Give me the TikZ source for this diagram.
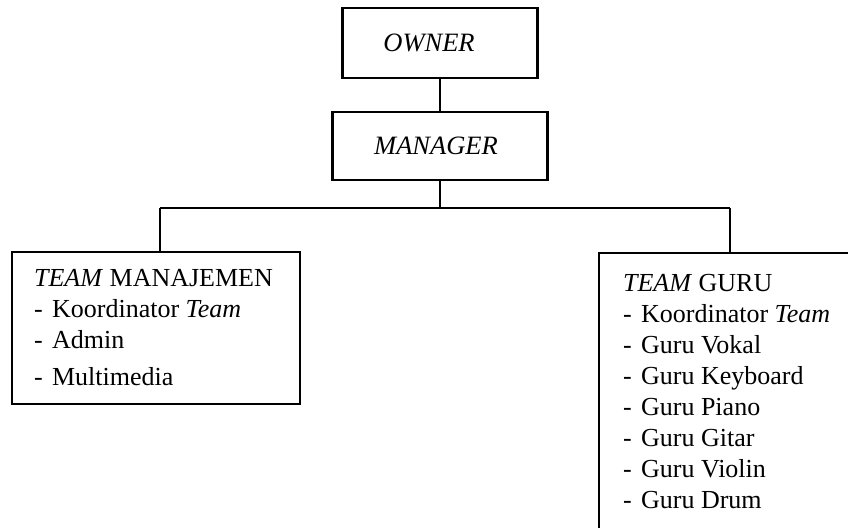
\documentclass[tikz,border=0pt]{standalone}
\usepackage{fontspec}
\setmainfont{Liberation Serif}
\newcommand\member[1]{% dash, then the entry
  \makebox[18pt][l]{-}#1%
}

\begin{document}
\begin{tikzpicture}[x=1pt,y=-1pt,line width=2.2pt]
  \tikzset{
    post/.style={draw,rectangle,inner sep=0pt,font=\fontsize{26.5}{31}\selectfont\itshape},
    unit/.style={draw,rectangle,inner sep=0pt,anchor=north west},
    staff/.style={anchor=base west,inner sep=0pt,align=left,font=\fontsize{26}{31}\selectfont},
  }
  \clip (0,0) rectangle (848,527);
  % titles sit a little left of the box centre
  \node [post,minimum width=195pt,minimum height=70pt] (owner)   at (440,43)  {OWNER\hspace*{22pt}};
  \node [post,minimum width=215pt,minimum height=68pt] (manager) at (440,146) {MANAGER\hspace*{8pt}};
  \node [unit,minimum width=288pt,minimum height=152pt] (mgmt) at (11,251) {};
  \node [unit,minimum width=320pt,minimum height=320pt] (guru) at (598,252) {};
  % base of a multi-line node is its last line
  \node [staff] (mgmtlist) at (33,385) {%
    \textit{TEAM} MANAJEMEN\\
    \member{Koordinator \textit{Team}}\\
    \member{Admin}\\[6pt]
    \member{Multimedia}};
  \node [staff,font=\fontsize{26}{30.9}\selectfont] (gurulist) at (622,508) {%
    \textit{TEAM} GURU\\
    \member{Koordinator \textit{Team}}\\
    \member{Guru Vokal}\\
    \member{Guru Keyboard}\\
    \member{Guru Piano}\\
    \member{Guru Gitar}\\
    \member{Guru Violin}\\
    \member{Guru Drum}};

  \coordinate (split) at (manager |- 0,208);
  \coordinate (jl) at (mgmt.north -| 160,0);
  \coordinate (jr) at (guru.north -| 730,0);
  \draw (owner) -- (manager);
  \draw (manager) -- (split);
  \draw (split -| jl) -- (split -| jr);
  \draw (split -| jl) -- (jl);
  \draw (split -| jr) -- (jr);
\end{tikzpicture}
\end{document}
